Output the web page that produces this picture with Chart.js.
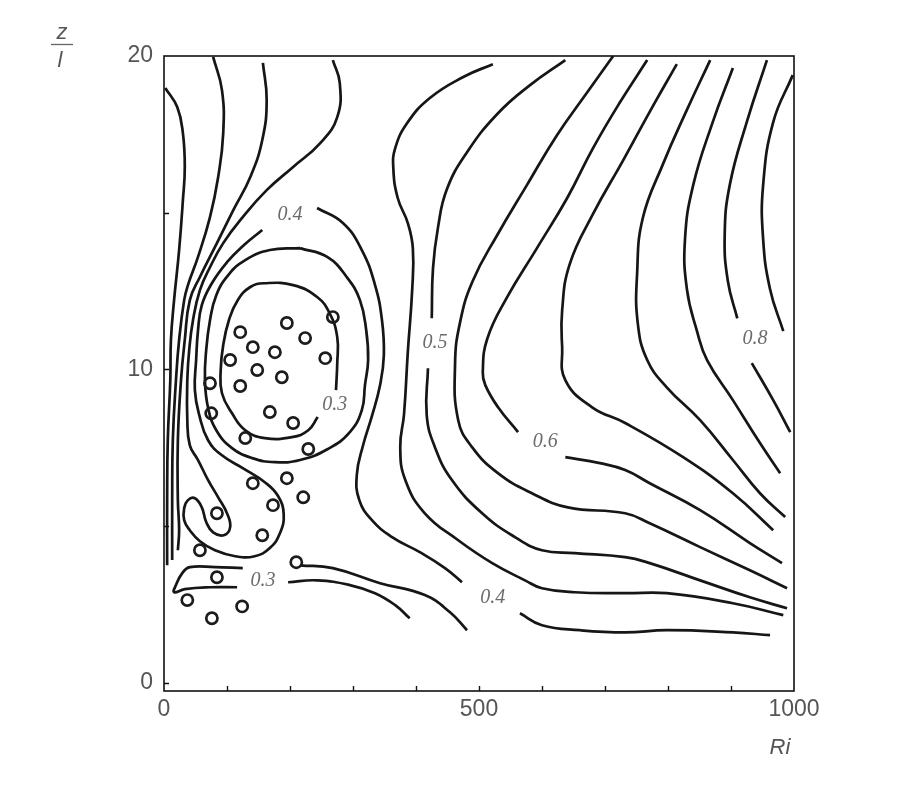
<!DOCTYPE html>
<html>
<head>
<meta charset="utf-8">
<script src="https://cdn.jsdelivr.net/npm/chart.js@4.4.1/dist/chart.umd.min.js"></script>
<style>
  html, body { margin: 0; padding: 0; background: #fff; }
  canvas { display: block; }
</style>
</head>
<body>
<canvas id="myChart" width="917" height="787"></canvas>
<script>
// isolines as [Ri, z/l] pairs

// bundle along the left edge
const edgeLine1 = [[2,18.98],[21,18.37],[30,17.54],[33,16.46],[30,15.40],[24,13.81],[16,12.21],[11,10.94],[10,9.66],[6,7.74],[5,5.83],[5,3.75]];
const edgeLine2 = [[78,19.97],[92,18.91],[94,17.54],[86,16.14],[73,14.86],[54,13.59],[38,12.69],[32,12.21],[24,10.94],[19,9.66],[14,7.74],[13,5.83],[13,3.92]];
const edgeLine3 = [[157,19.78],[163,18.59],[156,17.32],[137,16.14],[110,15.08],[84,14.03],[57,12.95],[41,12.21],[33,10.94],[27,9.66],[22,7.74],[22,5.83],[24,4.87],[22,4.23]];

// 0.4 isoline, left part: down from the top, round the lower lobe, back up to the label
const iso04Left = [[268,19.87],[279,19.14],[275,18.05],[248,17.22],[205,16.46],[163,15.72],[125,14.86],[94,14.03],[73,13.26],[57,12.53],[46,11.57],[40,10.62],[37,9.66],[37,8.38],[41,7.58],[54,7.11],[70,6.47],[86,5.92],[100,5.41],[105,4.97],[95,4.71],[78,4.80],[67,5.13],[60,5.60],[49,5.89],[38,5.83],[32,5.57],[32,5.19],[41,4.87],[57,4.52],[81,4.23],[113,4.04],[144,4.04],[168,4.30],[184,4.77],[190,5.38],[181,5.96],[160,6.40],[125,6.85],[92,7.26],[70,7.74],[56,8.54],[49,9.34],[51,10.30],[54,11.25],[60,12.05],[76,12.75],[100,13.42],[127,13.97],[156,14.45]];
// 0.4 isoline, right of the label
const iso04Right = [[243,15.15],[284,14.67],[314,13.81],[335,12.69],[346,11.57],[349,10.46],[343,9.50],[330,8.51],[316,7.58],[306,6.63],[310,5.83],[330,5.19],[362,4.65],[406,4.17],[446,3.66],[473,3.21]];

// closed loop around the 0.3 core
const loop035 = [[216,13.87],[259,13.59],[290,12.95],[311,12.21],[321,11.25],[324,10.30],[319,9.50],[314,8.70],[295,8.00],[260,7.46],[216,7.11],[176,7.04],[140,7.17],[108,7.49],[83,8.06],[70,8.77],[65,9.66],[67,10.62],[73,11.57],[83,12.37],[102,13.01],[129,13.49],[168,13.81],[216,13.87]];
// 0.3 core
const iso03Core = [[273,9.34],[275,10.20],[275,11.03],[263,11.79],[243,12.31],[205,12.69],[159,12.75],[137,12.63],[117,12.21],[103,11.57],[94,10.78],[90,9.98],[92,9.24],[108,8.60],[129,8.06],[160,7.81],[203,7.84],[229,8.06],[244,8.48]];

// low 0.3 band
const iso03Low = [[125,3.66],[81,3.69],[41,3.69],[29,3.50],[19,3.12],[16,2.89],[33,2.99],[73,3.05],[116,3.05]];
const lowUpper = [[216,3.75],[268,3.66],[343,3.18],[414,2.80],[454,2.25],[481,1.68]];
const lowLower = [[197,3.21],[243,3.27],[295,3.12],[335,2.86],[367,2.48],[390,2.06]];

// right half
const iso05Outer = [[522,19.74],[475,19.33],[422,18.66],[386,17.86],[367,17.06],[364,16.42],[371,15.47],[387,14.67],[395,13.87],[394,12.56],[387,10.55],[381,8.57],[375,7.52],[383,6.47],[414,5.41],[467,4.55],[521,3.82],[573,3.27],[600,3.02],[652,2.89],[732,2.86],[798,2.86],[903,2.54],[983,2.16]];
const iso05Top = [[637,19.87],[581,19.07],[529,18.15],[481,16.93],[449,15.75],[435,14.54],[427,13.23],[425,11.63]];
const iso05Bottom = [[419,10.04],[417,8.54],[430,7.52],[457,6.47],[505,5.41],[557,4.65],[600,4.23],[652,4.14],[732,4.01],[771,3.82],[851,3.27],[930,2.73],[989,2.38]];
const midLine1 = [[713,20.00],[671,18.82],[624,17.48],[576,15.88],[529,14.29],[490,12.82],[470,11.51],[462,10.17],[467,8.38],[489,7.52],[530,6.69],[584,6.05],[641,5.60],[732,5.41],[771,5.09],[851,4.33],[930,3.59],[989,3.02]];
const iso06Top = [[767,19.87],[724,18.53],[681,17.06],[640,15.47],[592,13.87],[544,12.28],[513,10.97],[506,9.91],[510,9.50],[530,8.80],[562,8.00]];
const iso06Bottom = [[637,7.20],[692,7.01],[732,6.79],[771,6.37],[851,5.51],[930,4.46],[981,3.82]];
const midLine2 = [[814,19.74],[776,18.40],[729,16.68],[681,14.96],[644,13.36],[632,11.89],[632,10.71],[637,9.66],[679,8.80],[732,8.29],[824,7.20],[903,6.05],[967,4.87]];
const midLine3 = [[867,19.87],[830,18.28],[792,16.55],[760,14.83],[751,13.07],[752,11.48],[767,10.30],[798,9.43],[851,8.38],[903,7.11],[946,6.05],[986,5.29]];
const midLine4 = [[903,19.62],[871,17.89],[840,15.88],[827,14.16],[830,12.56],[846,11.22],[862,10.30],[903,9.02],[946,7.65],[978,6.69]];
const iso08Top = [[957,19.87],[925,17.89],[898,15.88],[890,14.29],[895,12.82],[910,11.63]];
const iso08Bottom = [[933,10.20],[967,9.02],[994,8.00]];
const rightEdge = [[998,19.39],[967,17.89],[951,15.88],[951,14.16],[962,12.56],[983,11.22]];
const iso04Floor = [[565,2.22],[600,1.84],[660,1.68],[732,1.61],[798,1.68],[903,1.61],[962,1.52]];

// measured points (open circles)
const sampleRi = [121,195,224,268,141,176,105,148,187,256,121,73,75,168,205,129,229,195,141,221,173,84,156,57,210,84,37,124,76];
const sampleZ = [11.19,11.48,11.00,11.67,10.71,10.55,10.30,9.98,9.75,10.36,9.47,9.56,8.60,8.64,8.29,7.81,7.46,6.53,6.37,5.92,5.67,5.41,4.71,4.23,3.85,3.37,2.64,2.44,2.06];

// isoline labels: text, Ri, z/l
const isoLabels = [['0.4',200,14.92],['0.3',271,8.86],['0.3',157,3.27],['0.5',430,10.84],['0.6',605,7.68],['0.4',522,2.70],['0.8',938,10.97]];

const xTicks = [0,100,200,300,400,500,600,700,800,900,1000];
const xTickLabels = ['0','','','','','500','','','','','1000'];
const yTicks = [0,5,10,15,20];
const yTickLabels = ['0','','10','','20'];

const contourLines = [edgeLine1, edgeLine2, edgeLine3, iso04Left, iso04Right, loop035, iso03Core,
  iso03Low, lowUpper, lowLower, iso05Outer, iso05Top, iso05Bottom, midLine1, iso06Top, iso06Bottom,
  midLine2, midLine3, midLine4, iso08Top, iso08Bottom, rightEdge, iso04Floor];

const lineSets = contourLines.map(pts => ({
  data: pts.map(p => ({ x: p[0], y: p[1] })),
  showLine: true,
  tension: 0.45,
  borderColor: '#161616',
  borderWidth: 2.7,
  pointRadius: 0,
  order: 2
}));

const circleSet = {
  data: sampleRi.map((r, i) => ({ x: r, y: sampleZ[i] })),
  showLine: false,
  pointStyle: 'circle',
  pointRadius: 5.6,
  pointBorderWidth: 2.7,
  pointBorderColor: '#1c1c1c',
  pointBackgroundColor: 'rgba(255,255,255,0)',
  order: 1
};

const tickFont = { family: '"Liberation Sans", Arial, sans-serif', size: 23 };

// frame, inward ticks, isoline labels and axis titles
const decorations = {
  id: 'decorations',
  afterDatasetsDraw(chart) {
    const { ctx, chartArea: a, scales: { x, y } } = chart;
    ctx.save();
    ctx.strokeStyle = '#111';
    ctx.lineWidth = 1.6;
    ctx.strokeRect(a.left, a.top, a.right - a.left, a.bottom - a.top);

    ctx.lineWidth = 1.4;
    ctx.beginPath();
    xTicks.forEach(v => {
      if (v === 0 || v === 1000) return;
      const px = Math.round(x.getPixelForValue(v)) + 0.5;
      ctx.moveTo(px, a.bottom);
      ctx.lineTo(px, a.bottom - 5);
    });
    yTicks.forEach(v => {
      if (v === 20) return;
      const py = Math.round(y.getPixelForValue(v)) + 0.5;
      ctx.moveTo(a.left, py);
      ctx.lineTo(a.left + 5, py);
    });
    ctx.stroke();

    ctx.fillStyle = '#6b6b6b';
    ctx.font = 'italic 20px "Liberation Serif", "DejaVu Serif", serif';
    ctx.textAlign = 'center';
    ctx.textBaseline = 'middle';
    isoLabels.forEach(([t, r, z]) => {
      ctx.fillText(t, x.getPixelForValue(r), y.getPixelForValue(z));
    });

    ctx.fillStyle = '#555';
    ctx.font = 'italic 22px "Liberation Sans", Arial, sans-serif';
    ctx.fillText('Ri', 780, 748);
    ctx.fillText('z', 62, 33);
    ctx.fillText('l', 60, 61);
    ctx.strokeStyle = '#666';
    ctx.lineWidth = 1.3;
    ctx.beginPath();
    ctx.moveTo(51, 44.5);
    ctx.lineTo(73, 44.5);
    ctx.stroke();
    ctx.restore();
  }
};

new Chart(document.getElementById('myChart'), {
  type: 'scatter',
  data: { datasets: [circleSet, ...lineSets] },
  options: {
    responsive: false,
    animation: false,
    layout: { padding: { left: 0, top: 56, right: 123, bottom: 0 } },
    plugins: { legend: { display: false }, tooltip: { enabled: false } },
    scales: {
      x: {
        type: 'linear',
        min: 0,
        max: 1000,
        grid: { display: false, drawTicks: false },
        border: { display: false },
        afterBuildTicks: s => { s.ticks = xTicks.map(v => ({ value: v })); },
        afterFit: s => { s.height = 96; },
        ticks: {
          autoSkip: false,
          maxRotation: 0,
          padding: 5,
          color: '#555',
          font: tickFont,
          callback: (v, i) => xTickLabels[i]
        }
      },
      y: {
        type: 'linear',
        min: -0.26,
        max: 20,
        grid: { display: false, drawTicks: false },
        border: { display: false },
        afterBuildTicks: s => { s.ticks = yTicks.map(v => ({ value: v })); },
        afterFit: s => { s.width = 164; },
        ticks: {
          autoSkip: false,
          padding: 11,
          color: '#555',
          font: tickFont,
          callback: (v, i) => yTickLabels[i]
        }
      }
    }
  },
  plugins: [decorations]
});
</script>
</body>
</html>
